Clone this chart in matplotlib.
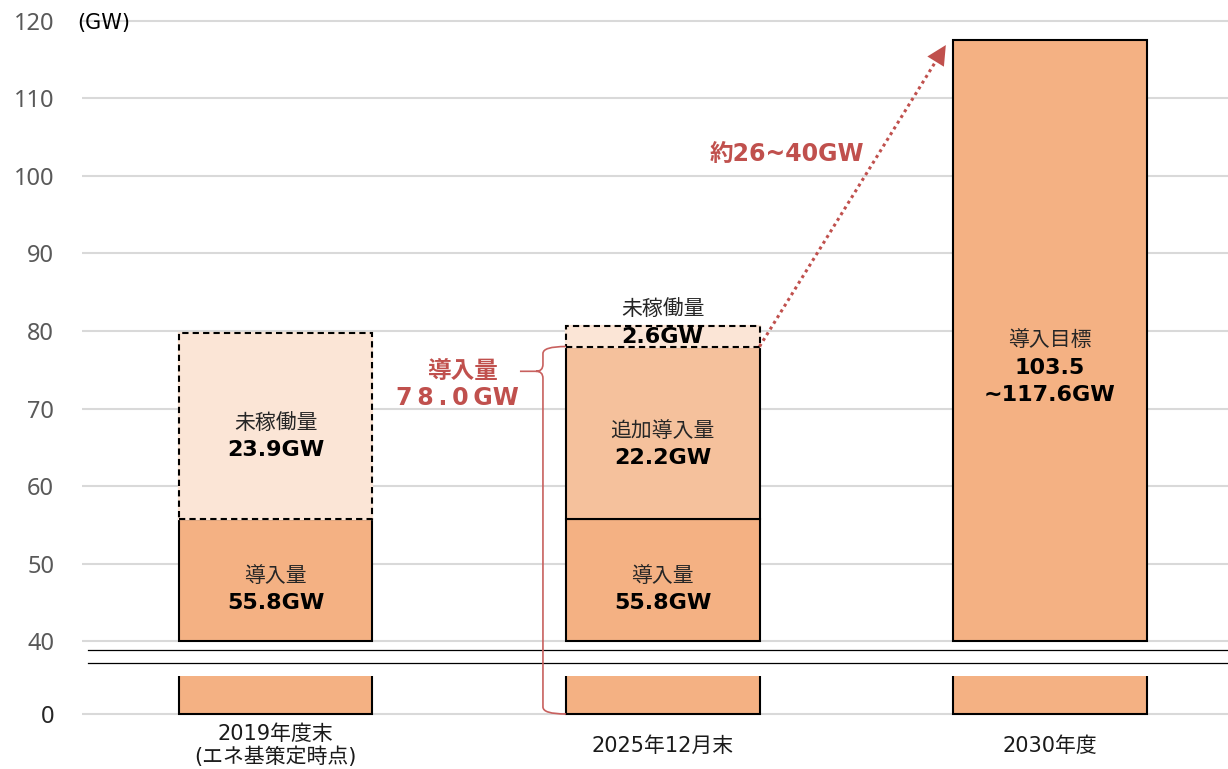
import matplotlib
matplotlib.use("Agg")
import matplotlib.pyplot as plt
from matplotlib.lines import Line2D
from matplotlib.path import Path
from matplotlib.patches import PathPatch
from matplotlib.transforms import blended_transform_factory

plt.rcParams['font.family'] = ['DejaVu Sans', 'Noto Sans CJK JP']

# data
categories = ['2019年度末\n(エネ基策定時点)', '2025年12月末', '2030年度']
installed = [55.8, 55.8]          # 導入量
additional = [0.0, 22.2]          # 追加導入量
idle = [23.9, 2.6]                # 未稼働量
target_low, target_high = 103.5, 117.6
gap_low, gap_high = 26, 40
y_ticks_top = [40, 50, 60, 70, 80, 90, 100, 110, 120]

ORANGE = '#F4B183'
LIGHT = '#F5C19C'
PALE = '#FBE5D6'
RED = '#C0504D'
GRID = '#D9D9D9'
W, H = 1228, 769
PX = 72 / 100  # pixels -> points

fig = plt.figure(figsize=(W / 100, H / 100), dpi=100)
ax = fig.add_axes([82 / W, 124.1 / H, 1146 / W, 627.8 / H])
axb = fig.add_axes([82 / W, 51.9 / H, 1146 / W, 41.1 / H])

x = [0, 1, 2]
bw = 0.5
for a in (ax, axb):
    a.set_xlim(-0.5, 2.46)
    for s in a.spines.values():
        s.set_visible(False)
    a.tick_params(length=0)
    a.yaxis.grid(True, color=GRID, lw=1.5)
    a.set_axisbelow(True)
ax.set_ylim(39.5, 120.5)
axb.set_ylim(-0.4, 4.9)
ax.set_xticks([])
ax.set_yticks(y_ticks_top)
ax.tick_params(axis='y', pad=20, labelsize=17, labelcolor='#595959')
for t in ax.get_yticklabels():
    t.set_fontfamily('Noto Sans')
axb.set_yticks([0])
axb.tick_params(axis='y', pad=20, labelsize=17, labelcolor='#262626')
for t in axb.get_yticklabels():
    t.set_fontfamily('Noto Sans')
axb.set_xticks([])

# category labels below the axis
trans = blended_transform_factory(axb.transData, axb.transAxes)
for xc, lab in zip(x, categories):
    axb.text(xc, -0.70, lab, transform=trans, ha='center', va='center',
             fontsize=15, color='#1a1a1a', linespacing=1.15)

edge = dict(edgecolor='black', linewidth=1.5)
base_all = installed + [target_high]

# lower panel (0 .. break)
axb.bar(x, base_all, bw, color=ORANGE, **edge)

# upper panel, bars start at 40 (broken axis)
ax.bar(x, [v - 40 for v in base_all], bw, bottom=40, color=ORANGE, **edge, zorder=2)
ax.bar(x[:2], additional, bw, bottom=installed, color=LIGHT, **edge, zorder=2)
tops = [i + a for i, a in zip(installed, additional)]
ax.bar(x[:2], idle, bw, bottom=tops, color=PALE, edgecolor=PALE, linewidth=1.6, zorder=3)
ax.bar(x[:2], idle, bw, bottom=tops, color='none', edgecolor='black',
       linewidth=1.5, linestyle=(0, (3, 2)), zorder=4)


def seg_label(xc, y, name, values, d):
    ax.annotate(name, (xc, y), xytext=(0, d * PX), textcoords='offset points',
                ha='center', va='center', fontsize=15, color='#262626', zorder=6)
    for k, v in enumerate(values):
        ax.annotate(v, (xc, y), xytext=(0, (d - 27.5 * (k + 1)) * PX),
                    textcoords='offset points', ha='center', va='center',
                    fontsize=16, fontweight='bold', color='black', zorder=6)


for i in range(2):
    seg_label(x[i], (40 + installed[i]) / 2, '導入量', [f'{installed[i]:.1f}GW'], 4)
seg_label(x[0], installed[0] + idle[0] / 2, '未稼働量', [f'{idle[0]:.1f}GW'], 3)
seg_label(x[1], installed[1] + additional[1] / 2, '追加導入量', [f'{additional[1]:.1f}GW'], 2)
seg_label(x[1], tops[1] + idle[1] / 2, '未稼働量', [f'{idle[1]:.1f}GW'], 27)
seg_label(x[2], (40 + target_high) / 2, '導入目標',
          [f'{target_low:.1f}', f'~{target_high:.1f}GW'], 0)

ax.text(-0.445, 119.8, '(GW)', ha='center', va='center', fontsize=15, color='black')

# dotted arrow to the 2030 target
x0, y0 = x[1] + bw / 2, tops[1]
x1, y1 = x[2] - bw / 2 - 0.015, target_high - 0.4
ax.plot([x0, x0 + (x1 - x0) * 0.96], [y0, y0 + (y1 - y0) * 0.96], color=RED,
        lw=2.2, linestyle=(0, (1, 1.2)), dash_capstyle='butt', zorder=5)
ax.annotate('', xy=(x1, y1), xytext=(x0 + (x1 - x0) * 0.93, y0 + (y1 - y0) * 0.93),
            arrowprops=dict(arrowstyle='-|>,head_length=0.7,head_width=0.35',
                            color=RED, lw=0, mutation_scale=20), zorder=5)
ax.text(1.32, 102.8, f'約{gap_low}~{gap_high}GW', ha='center', va='center',
        fontsize=17, fontweight='bold', color=RED)

# bracket for total installed amount
total = installed[1] + additional[1]
ax.text(-0.5 + 416 / 387.5, 74.8, '導入量', ha='right', va='center', fontsize=17,
        fontweight='bold', color=RED)
ax.text(-0.5 + 437 / 387.5, 71.3, '\u2009'.join(f'{total:.1f}') + '\u2009GW',
        ha='right', va='center', fontsize=17, fontweight='bold', color=RED)

xl = x[1] - bw / 2
xL, yT = ax.transData.transform((xl, total))
_, yM = ax.transData.transform((xl, 74.8))
_, yB = axb.transData.transform((xl, 0))
bx, tx, r = xL - 23, xL - 46, 7
verts = [(xL, yT), (bx, yT), (bx, yT - r),
         (bx, yM + r), (bx, yM), (bx - r, yM), (tx, yM),
         (bx - r, yM), (bx, yM), (bx, yM - r),
         (bx, yB + r), (bx, yB), (xL, yB)]
codes = [Path.MOVETO, Path.CURVE3, Path.CURVE3,
         Path.LINETO, Path.CURVE3, Path.CURVE3, Path.LINETO,
         Path.MOVETO, Path.CURVE3, Path.CURVE3,
         Path.LINETO, Path.CURVE3, Path.CURVE3]
fig.add_artist(PathPatch(Path(verts, codes), transform=None, facecolor='none',
                         edgecolor='#C8605E', lw=1.2, zorder=10))

# axis break marks
for yy in (650, 663):
    fig.add_artist(Line2D([88 / W, 1], [1 - yy / H, 1 - yy / H], color='black', lw=0.9))

fig.savefig('out.png', dpi=100)
